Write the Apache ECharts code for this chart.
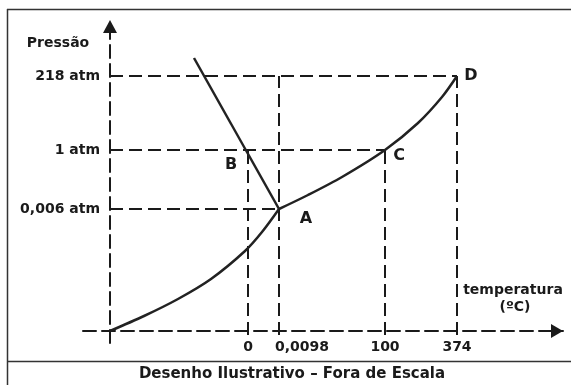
<!DOCTYPE html>
<html>
<head>
<meta charset="utf-8">
<script src="https://cdn.jsdelivr.net/npm/echarts@6/dist/echarts.min.js"></script>
<style>html,body{margin:0;padding:0;background:#fff}#c{width:571px;height:385px}</style>
</head>
<body>
<div id="c"></div>
<script>
// Schematic (not to scale) positions
var tempTickPos = [138, 169, 275, 347];
var tempTickLabels = ['0', '0,0098', '100', '374'];
var pressTickPos = [122, 181, 255];
var pressTickLabels = ['0,006 atm', '1 atm', '218 atm'];

var pointNames = ['A', 'B', 'C', 'D'];
var pointX = [169, 138, 275, 347];
var pointY = [122, 181, 181, 255];

// curves (schematic positions)
var sublimationX = [0, 34, 68, 101, 135, 152, 169];
var sublimationY = [0, 15, 32, 52, 80, 99, 122];
var vaporizationX = [169, 198, 232, 275, 308, 332, 347];
var vaporizationY = [122, 136, 154, 181, 208, 234, 255];
var fusionX = [84, 169];
var fusionY = [273, 122];

var zip = function (xs, ys) { return xs.map(function (x, i) { return [x, ys[i]]; }); };

var ink = '#1a1a1a';
var font = 'DejaVu Sans';

// dashed guide segments: verticals from below axis to the point, horizontals from y axis
var guides = [
  [[tempTickPos[0], -4], [tempTickPos[0], pointY[1]]],
  [[tempTickPos[1], -4], [tempTickPos[1], pressTickPos[2]]],
  [[tempTickPos[2], -4], [tempTickPos[2], pointY[2]]],
  [[tempTickPos[3], -4], [tempTickPos[3], pressTickPos[2]]],
  [[0, pressTickPos[0]], [pointX[0], pressTickPos[0]]],
  [[0, pressTickPos[1]], [pointX[2], pressTickPos[1]]],
  [[0, pressTickPos[2]], [pointX[3], pressTickPos[2]]]
];

var series = guides.map(function (seg) {
  return {
    type: 'line', data: seg, symbol: 'none', silent: true, z: 2,
    lineStyle: { color: ink, width: 2, type: [13, 6] }
  };
});

var curveStyle = { color: '#222', width: 2.5 };
series.push({ type: 'line', data: zip(sublimationX, sublimationY), smooth: 0.3, symbol: 'none', lineStyle: curveStyle, z: 3 });
series.push({ type: 'line', data: zip(vaporizationX, vaporizationY), smooth: 0.3, symbol: 'none', lineStyle: curveStyle, z: 3 });
series.push({ type: 'line', data: zip(fusionX, fusionY), symbol: 'none', lineStyle: curveStyle, z: 3 });

var labelOffsets = { A: [27, 10], B: [-17, 15], C: [14, 6], D: [14, 0] };
series.push({
  type: 'scatter', symbolSize: 0, z: 4,
  itemStyle: { color: ink, opacity: 1 },
  data: pointNames.map(function (n, i) {
    return {
      value: [pointX[i], pointY[i]], name: n,
      label: { show: true, position: 'inside', formatter: n, offset: labelOffsets[n],
        color: ink, textBorderWidth: 0, textBorderColor: 'transparent', opacity: 1,
        fontFamily: font, fontWeight: 'bold', fontSize: 16 }
    };
  })
});

var chart = echarts.init(document.getElementById('c'));
chart.setOption({
  animation: false,
  backgroundColor: '#fff',
  grid: { left: 83, right: 8, top: 20, bottom: 42, containLabel: false, outerBoundsMode: 'none' },
  xAxis: {
    type: 'value', min: -27, max: 453,
    splitLine: { show: false }, axisTick: { show: false },
    axisLine: { show: true, onZero: true, symbol: ['none', 'triangle'], symbolSize: [14, 12], symbolOffset: [0, -6],
      lineStyle: { color: ink, width: 2, type: [13, 6] } },
    axisLabel: {
      customValues: tempTickPos, margin: -3, color: ink, fontFamily: font, fontWeight: 'bold', fontSize: 14,
      formatter: function (v) {
        var i = tempTickPos.indexOf(v);
        if (i === 1) return '{s|' + tempTickLabels[i] + '}';
        return i >= 0 ? tempTickLabels[i] : '';
      },
      rich: { s: { padding: [0, 0, 0, 46], color: ink, fontFamily: font, fontWeight: 'bold', fontSize: 14 } }
    }
  },
  yAxis: {
    type: 'value', min: -12, max: 311,
    splitLine: { show: false }, axisTick: { show: false },
    axisLine: { show: true, onZero: true, symbol: ['none', 'triangle'], symbolSize: [14, 13], symbolOffset: [0, -6.5],
      lineStyle: { color: ink, width: 2, type: [13, 6] } },
    axisLabel: {
      customValues: pressTickPos, margin: -17, color: ink, fontFamily: font, fontWeight: 'bold', fontSize: 14,
      formatter: function (v) { var i = pressTickPos.indexOf(v); return i >= 0 ? pressTickLabels[i] : ''; }
    }
  },
  graphic: [
    { type: 'line', shape: { x1: 7.5, y1: 9, x2: 7.5, y2: 385 }, style: { stroke: '#333', lineWidth: 1.5 } },
    { type: 'line', shape: { x1: 7, y1: 9.5, x2: 571, y2: 9.5 }, style: { stroke: '#333', lineWidth: 1.5 } },
    { type: 'line', shape: { x1: 7, y1: 361.5, x2: 571, y2: 361.5 }, style: { stroke: '#333', lineWidth: 1.5 } },
    { type: 'text', x: 58, y: 43, style: { text: 'Pressão', fill: ink, font: 'bold 14px "DejaVu Sans"', align: 'center', verticalAlign: 'middle' } },
    { type: 'text', x: 513, y: 290, style: { text: 'temperatura', fill: ink, font: 'bold 14px "DejaVu Sans"', align: 'center', verticalAlign: 'middle' } },
    { type: 'text', x: 515, y: 307, style: { text: '(ºC)', fill: ink, font: 'bold 14px "DejaVu Sans"', align: 'center', verticalAlign: 'middle' } },
    { type: 'text', x: 292, y: 374, style: { text: 'Desenho Ilustrativo – Fora de Escala', fill: ink, font: 'bold 15px "DejaVu Sans"', align: 'center', verticalAlign: 'middle' } }
  ],
  series: series
});
</script>
</body>
</html>
